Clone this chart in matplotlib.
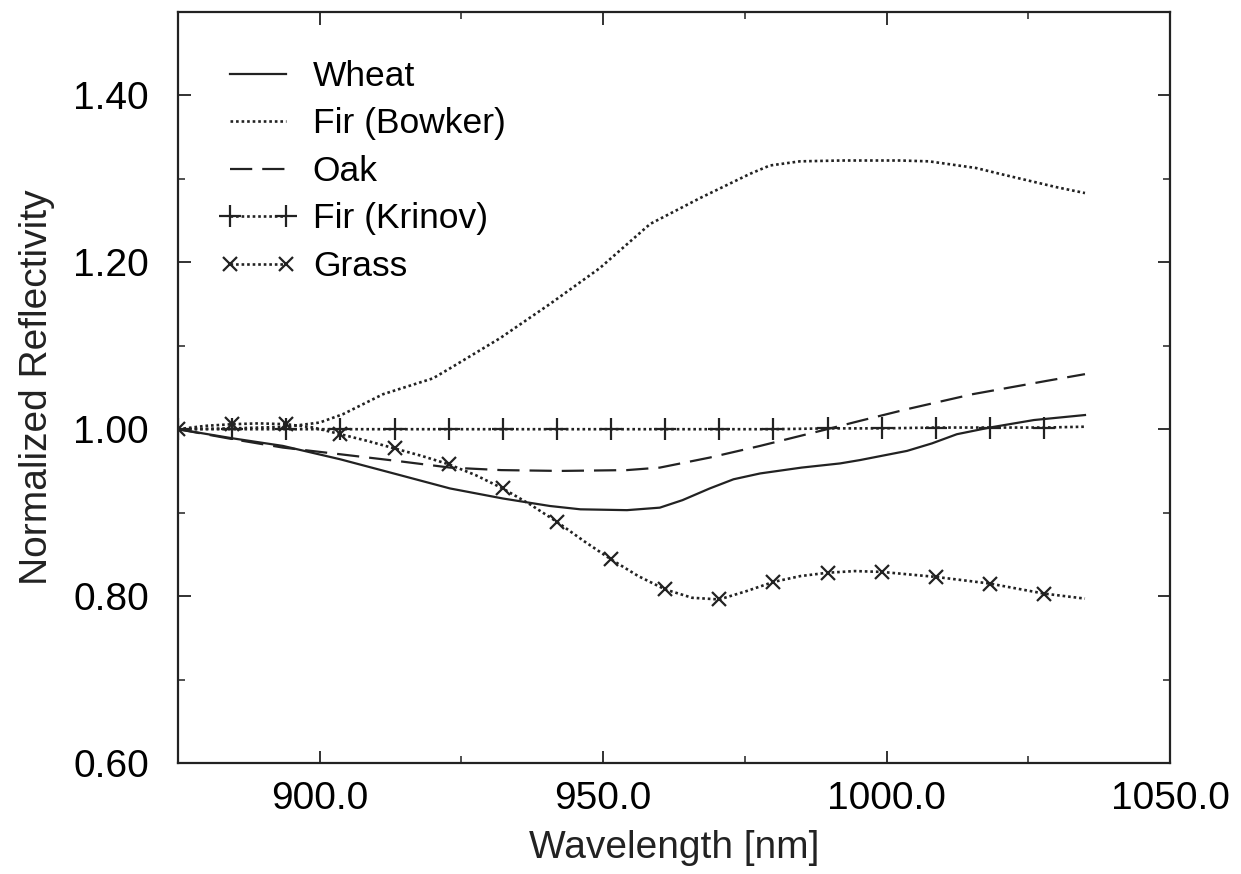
import matplotlib
matplotlib.use("Agg")
import matplotlib.pyplot as plt
from matplotlib.ticker import MultipleLocator, FormatStrFormatter

plt.rcParams['font.family'] = ['Liberation Sans', 'DejaVu Sans']

# wavelengths [nm] of the marked samples
wl_marks = [875.0, 884.55, 894.1, 903.65, 913.2, 922.75, 932.3, 941.85, 951.4,
            960.95, 970.5, 980.05, 989.6, 999.15, 1008.7, 1018.25, 1027.8]

# Wheat
wheat_wl = [875, 884.7, 893.5, 903.6, 913.6, 923, 932.3, 940.6, 946, 954.2, 960,
            964, 968.8, 973, 977.7, 985, 991.8, 995.3, 1003.6, 1008, 1012.4,
            1018.2, 1026, 1035]
wheat_val = [1.000, 0.989, 0.980, 0.964, 0.946, 0.929, 0.917, 0.908, 0.904, 0.903,
             0.906, 0.915, 0.929, 0.940, 0.947, 0.954, 0.959, 0.963, 0.974, 0.983,
             0.994, 1.002, 1.011, 1.017]

# Fir (Bowker)
bowker_wl = [875, 884.6, 894.2, 900, 904.1, 911.2, 920, 923, 931.8, 940.6, 949.4,
             958.3, 967.1, 975.9, 979.4, 984.7, 992, 1002.4, 1007.5, 1015.8, 1020,
             1025, 1030, 1035]
bowker_val = [1.000, 1.001, 1.003, 1.008, 1.018, 1.042, 1.061, 1.073, 1.109, 1.150,
              1.193, 1.246, 1.277, 1.306, 1.316, 1.321, 1.322, 1.322, 1.321, 1.313,
              1.306, 1.298, 1.290, 1.283]

# Oak
oak_wl = [875, 884.7, 893.5, 903.6, 913.6, 923, 932, 942.4, 954.2, 960, 968.8,
          977.7, 989.5, 995.3, 1003.6, 1015.2, 1028.3, 1035]
oak_val = [1.000, 0.988, 0.978, 0.970, 0.962, 0.954, 0.951, 0.950, 0.951, 0.954,
           0.966, 0.980, 1.000, 1.010, 1.024, 1.042, 1.058, 1.066]

# Fir (Krinov)
krinov_wl = wl_marks + [1035.0]
krinov_val = [1.000, 1.000, 1.000, 1.000, 1.000, 1.000, 1.000, 1.000, 1.000,
              1.000, 1.000, 1.000, 1.001, 1.001, 1.002, 1.002, 1.002, 1.003]

# Grass (half-step samples, every second one is marked)
grass_wl = [875.0, 879.8, 884.55, 889.3, 894.1, 898.9, 903.65, 908.4, 913.2, 918.0,
            922.75, 927.5, 932.3, 937.1, 941.85, 946.6, 951.4, 956.2, 960.95, 965.7,
            970.5, 975.3, 980.05, 984.8, 989.6, 994.4, 999.15, 1003.9, 1008.7,
            1013.5, 1018.25, 1023.0, 1027.8, 1032.6, 1035.0]
grass_val = [1.000, 1.004, 1.006, 1.007, 1.006, 1.002, 0.994, 0.986, 0.977, 0.968,
             0.958, 0.945, 0.929, 0.910, 0.889, 0.866, 0.844, 0.824, 0.808, 0.798,
             0.796, 0.806, 0.817, 0.824, 0.828, 0.830, 0.829, 0.826, 0.823, 0.819,
             0.815, 0.809, 0.803, 0.799, 0.797]

dot = (0, (1, 1.1))

fig = plt.figure(figsize=(12.41, 8.74), dpi=100)
ax = fig.add_axes([0.1434, 0.127, 0.7994, 0.8593])

ax.plot(wheat_wl, wheat_val, color='#222222', lw=1.6, ls='-', label='Wheat')
ax.plot(bowker_wl, bowker_val, color='#222222', lw=1.9, ls=dot, label='Fir (Bowker)')
ax.plot(oak_wl, oak_val, color='#222222', lw=1.6, ls=(0, (10, 4.5)), label='Oak')
ax.plot(krinov_wl, krinov_val, color='#222222', lw=1.9, ls=dot, marker='+',
        ms=16, mew=1.6, markevery=list(range(len(wl_marks))), label='Fir (Krinov)')
ax.plot(grass_wl, grass_val, color='#222222', lw=1.9, ls=dot, marker='x',
        ms=10, mew=1.6, markevery=list(range(0, 33, 2)), label='Grass')

ax.set_xlim(875, 1050)
ax.set_ylim(0.6, 1.5)
ax.xaxis.set_major_locator(MultipleLocator(50))
ax.xaxis.set_minor_locator(MultipleLocator(25))
ax.yaxis.set_major_locator(MultipleLocator(0.2))
ax.yaxis.set_minor_locator(MultipleLocator(0.1))
ax.xaxis.set_major_formatter(FormatStrFormatter('%.1f'))
ax.yaxis.set_major_formatter(FormatStrFormatter('%.2f'))
ax.tick_params(which='both', direction='in', top=True, right=True, color='#222222')
ax.tick_params(which='major', length=9, width=1.3)
ax.tick_params(which='minor', length=5, width=1.1)
ax.tick_params(axis='x', which='major', labelsize=28, pad=13)
ax.tick_params(axis='y', which='major', labelsize=28, pad=21)
for s in ax.spines.values():
    s.set_linewidth(1.6)
    s.set_color('#222222')

ax.set_xlabel('Wavelength [nm]', fontsize=28, labelpad=9, color='#222222')
ax.set_ylabel('Normalized Reflectivity', fontsize=28, labelpad=13, color='#222222')

leg = ax.legend(loc='upper left', bbox_to_anchor=(0.027, 0.955), frameon=False,
                fontsize=25.5, handlelength=2.2, handletextpad=0.45,
                labelspacing=0.41, numpoints=2, borderaxespad=0)

plt.savefig('out.png', dpi=100)
